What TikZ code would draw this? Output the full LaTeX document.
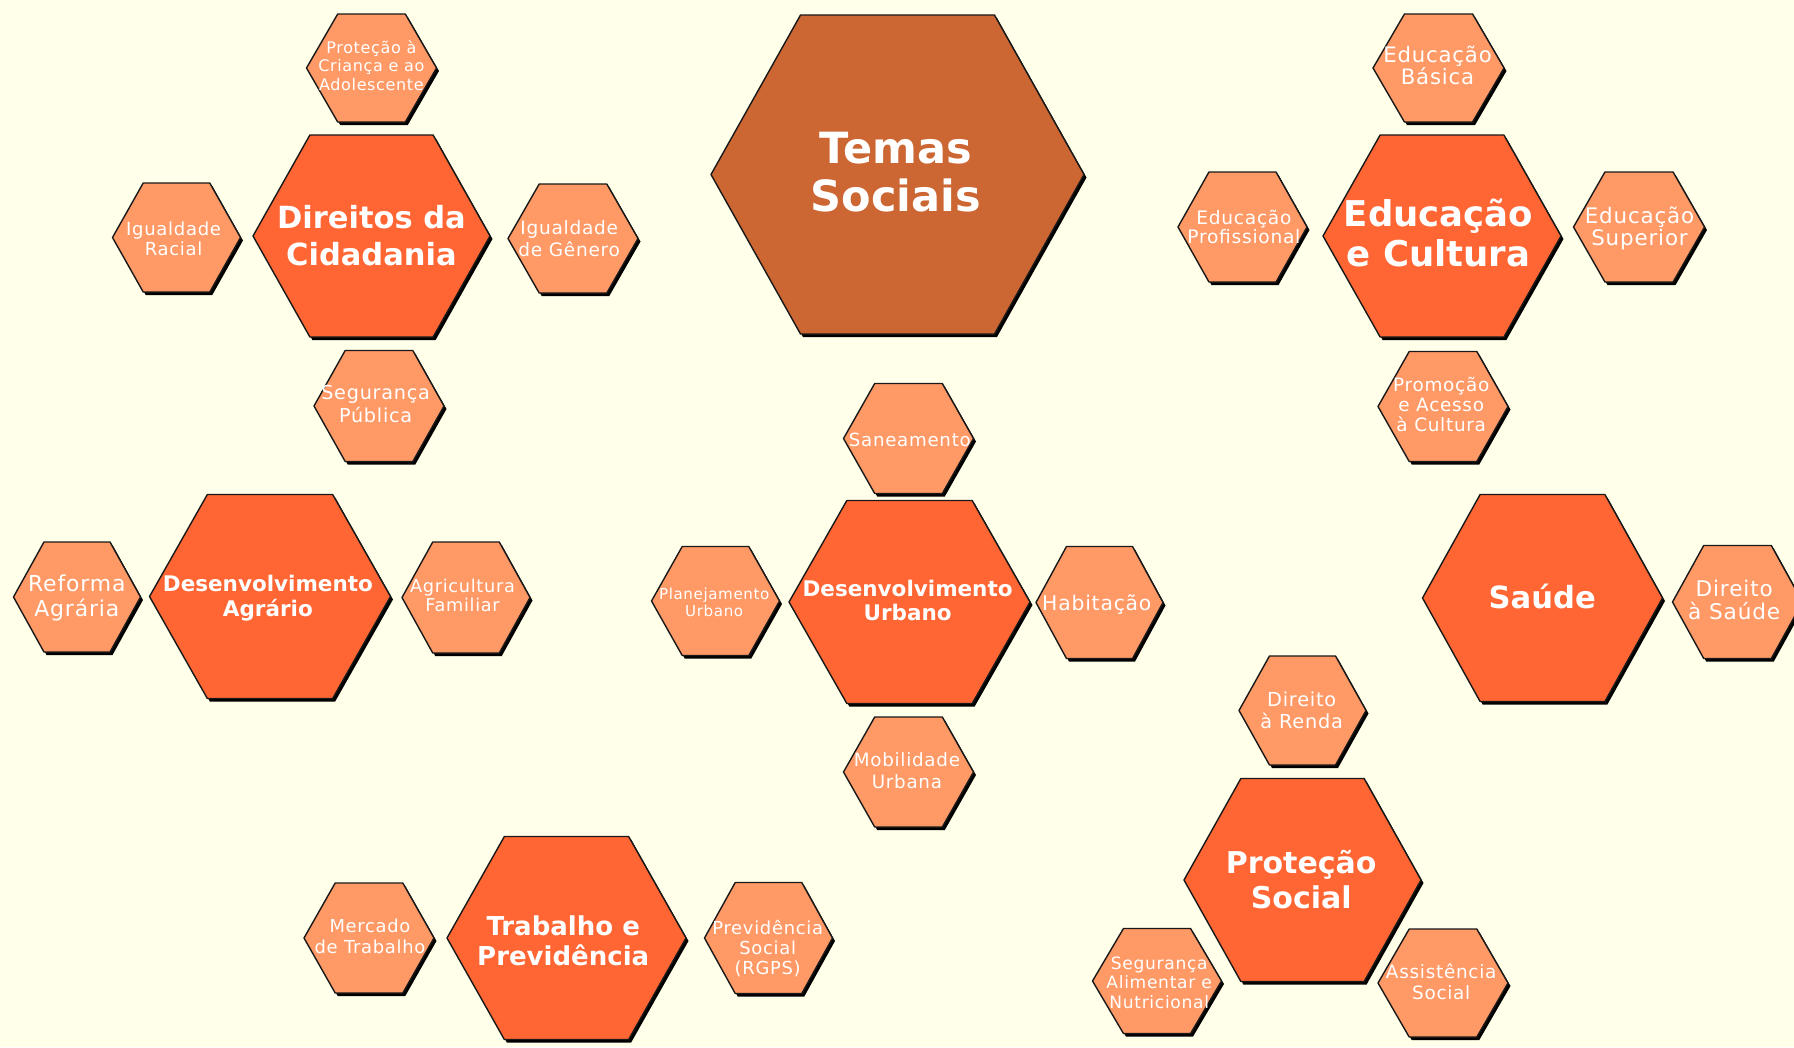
\documentclass[tikz,border=0pt]{standalone}
\usepackage{fontspec}
\setmainfont{DejaVu Sans}
\definecolor{bg}{HTML}{FFFFEA}
\definecolor{temas}{HTML}{CC6633}
\definecolor{mainhex}{HTML}{FF6633}
\definecolor{subhex}{HTML}{FF9966}
\newcommand\lnstrut{\rule[-0.25em]{0pt}{1.2em}}
\newcommand\ttlfont[2]{\bfseries\fontsize{#1}{#2}\selectfont\lineskiplimit=-100pt\lineskip=0pt}
\newcommand\smlfont[2]{\fontsize{#1}{#2}\selectfont\addfontfeature{LetterSpace=4}\lineskiplimit=-100pt\lineskip=0pt}
% #1 cx, #2 cy, #3 half width, #4 half height, #5 fill colour
\newcommand\hexagon[5]{%
  \begin{scope}[shift={(#1,#2)}]
    \fill[black] ({-#3+2.5},3) -- ({-0.52*#3+2.5},{-#4+3}) -- ({0.52*#3+2.5},{-#4+3})
      -- ({#3+2.5},3) -- ({0.52*#3+2.5},{#4+3}) -- ({-0.52*#3+2.5},{#4+3}) -- cycle;
    \filldraw[fill=#5, draw=black!90, line width=1.4pt, line join=round] ({-#3},0) -- ({-0.52*#3},{-#4}) -- ({0.52*#3},{-#4})
      -- ({#3},0) -- ({0.52*#3},{#4}) -- ({-0.52*#3},{#4}) -- cycle;
  \end{scope}}
\tikzset{lbl/.style={text=white, align=center, inner sep=0pt}}
\begin{document}
\begin{tikzpicture}[x=1pt,y=-1pt]
\path[use as bounding box, fill=bg] (0,0) rectangle (1794,1047);
\clip (0,0) rectangle (1794,1047);
% hexagons
\hexagon{897.5}{174.5}{186.5}{159.5}{temas}
\hexagon{371.5}{236}{118.5}{101}{mainhex}
\hexagon{371.5}{68}{65}{54}{subhex}
\hexagon{176.5}{237.5}{64}{54.5}{subhex}
\hexagon{573}{238.5}{65}{54.5}{subhex}
\hexagon{379}{406}{65}{55.5}{subhex}
\hexagon{1442}{236}{119}{101}{mainhex}
\hexagon{1438.5}{68}{65.5}{54}{subhex}
\hexagon{1242.5}{227}{64.5}{55}{subhex}
\hexagon{1639}{227}{65.5}{55}{subhex}
\hexagon{1443}{406.5}{65}{55}{subhex}
\hexagon{77}{597}{63.5}{55}{subhex}
\hexagon{270}{596.5}{120.5}{102}{mainhex}
\hexagon{466}{597.5}{64}{55.5}{subhex}
\hexagon{908.5}{438.5}{65}{55}{subhex}
\hexagon{909.5}{602}{120.5}{101.5}{mainhex}
\hexagon{715.5}{601}{64}{54.5}{subhex}
\hexagon{1099.5}{602.5}{63.5}{56}{subhex}
\hexagon{908.5}{772}{65}{55}{subhex}
\hexagon{1542.5}{598}{120}{103.5}{mainhex}
\hexagon{1737.5}{602}{65}{56.5}{subhex}
\hexagon{1302.5}{710.5}{63.5}{54.5}{subhex}
\hexagon{1302.5}{880}{118.5}{101.5}{mainhex}
\hexagon{1157}{981}{64.5}{52.5}{subhex}
\hexagon{1443}{983}{65}{54}{subhex}
\hexagon{369}{938}{65}{55}{subhex}
\hexagon{566.5}{938}{119.5}{101.5}{mainhex}
\hexagon{768.5}{938}{64}{55.5}{subhex}
% titles
\node[lbl, font=\ttlfont{43}{48.4}] (temas) at (895.8,172.5) {\lnstrut Temas\\\lnstrut Sociais};
\node[lbl, font=\ttlfont{30.5}{36.7}] (direitos) at (371.4,236) {\lnstrut Direitos da\\\lnstrut Cidadania};
\node[lbl, font=\ttlfont{35.5}{40}] (educacao) at (1438.6,234.3) {\lnstrut Educação\\\lnstrut e Cultura};
\node[lbl, font=\ttlfont{21.5}{25}] (agrario) at (267.9,596.6) {\lnstrut Desenvolvimento\\\lnstrut Agrário};
\node[lbl, font=\ttlfont{21.5}{24}] (urbano) at (907.6,601.2) {\lnstrut Desenvolvimento\\\lnstrut Urbano};
\node[lbl, font=\ttlfont{30.6}{36}] (saude) at (1542.2,597.6) {\lnstrut Saúde};
\node[lbl, font=\ttlfont{30}{35}] (protecao) at (1301.2,880.3) {\lnstrut Proteção\\\lnstrut Social};
\node[lbl, font=\ttlfont{26}{30}] (trabalho) at (563.2,940.9) {\lnstrut Trabalho e\\\lnstrut Previdência};
% sub-themes
\node[lbl, font=\smlfont{16}{18.3}] (crianca) at (371.4,66.1) {\lnstrut Proteção à\\\lnstrut Criança e ao\\\lnstrut Adolescente};
\node[lbl, font=\smlfont{18}{20}] (racial) at (173.6,238.7) {\lnstrut Igualdade\\\lnstrut Racial};
\node[lbl, font=\smlfont{18.5}{21.7}] (genero) at (569.2,239.3) {\lnstrut Igualdade\\\lnstrut de Gênero};
\node[lbl, font=\smlfont{19.2}{22.7}] (seguranca) at (375.6,404.6) {\lnstrut Segurança\\\lnstrut Pública};
\node[lbl, font=\smlfont{21.2}{21.3}] (basica) at (1437.5,66) {\lnstrut Educação\\\lnstrut Básica};
\node[lbl, font=\smlfont{18.6}{18.5}] (profissional) at (1243.9,227.7) {\lnstrut Educação\\\lnstrut Profissional};
\node[lbl, font=\smlfont{21.4}{21.7}] (superior) at (1639.5,226.7) {\lnstrut Educação\\\lnstrut Superior};
\node[lbl, font=\smlfont{18.4}{20}] (cultura) at (1441.2,405.3) {\lnstrut Promoção\\\lnstrut e Acesso\\\lnstrut à Cultura};
\node[lbl, font=\smlfont{21.9}{24.3}] (reforma) at (76.8,596.2) {\lnstrut Reforma\\\lnstrut Agrária};
\node[lbl, font=\smlfont{17.7}{19}] (familiar) at (462.5,596) {\lnstrut Agricultura\\\lnstrut Familiar};
\node[lbl, font=\smlfont{18.2}{20}] (saneamento) at (909.8,440.3) {\lnstrut Saneamento};
\node[lbl, font=\smlfont{15.1}{16.7}] (planejamento) at (714.2,602.4) {\lnstrut Planejamento\\\lnstrut Urbano};
\node[lbl, font=\smlfont{20.3}{24}] (habitacao) at (1096.8,602.9) {\lnstrut Habitação};
\node[lbl, font=\smlfont{18.3}{22.3}] (mobilidade) at (906.9,770.8) {\lnstrut Mobilidade\\\lnstrut Urbana};
\node[lbl, font=\smlfont{21.6}{22.6}] (dirsaude) at (1734.2,600.4) {\lnstrut Direito\\\lnstrut à Saúde};
\node[lbl, font=\smlfont{19.3}{22.3}] (renda) at (1301.7,710.4) {\lnstrut Direito\\\lnstrut à Renda};
\node[lbl, font=\smlfont{17.1}{19.5}] (alimentar) at (1159.2,982.8) {\lnstrut Segurança\\\lnstrut Alimentar e\\\lnstrut Nutricional};
\node[lbl, font=\smlfont{18.4}{21}] (assistencia) at (1441.2,982.4) {\lnstrut Assistência\\\lnstrut Social};
\node[lbl, font=\smlfont{17.9}{20.6}] (mercado) at (370,936.7) {\lnstrut Mercado\\\lnstrut de Trabalho};
\node[lbl, font=\smlfont{17.9}{20}] (previdencia) at (767.7,948.7) {\lnstrut Previdência\\\lnstrut Social\\\lnstrut (RGPS)};
\end{tikzpicture}
\end{document}
